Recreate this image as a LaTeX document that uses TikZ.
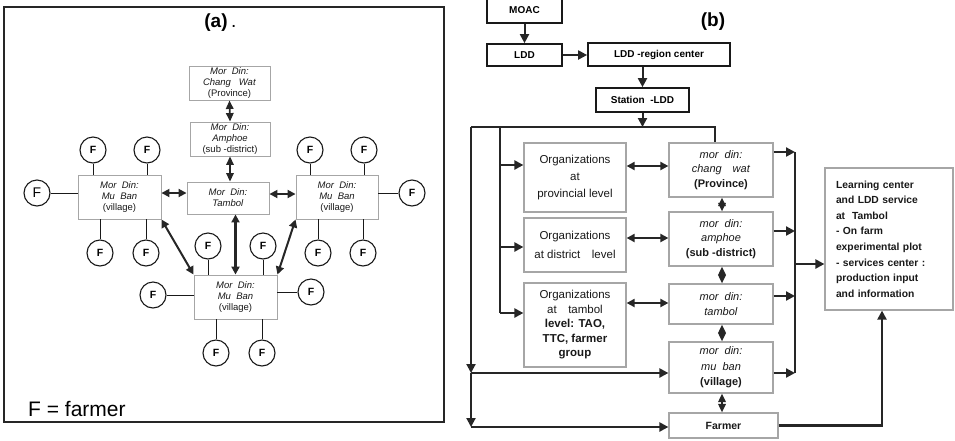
\documentclass[tikz,border=0pt]{standalone}
\usepackage{fontspec}
\setmainfont{Liberation Sans}
\usetikzlibrary{arrows.meta,calc,positioning}
\tikzset{
  frame line/.style={draw=black!85,line width=1.3pt},
  level box/.style={draw=black!35,line width=0.9pt,fill=white,align=center,
    inner sep=0.5pt,text=black!90,font=\fontsize{9.5}{11}\selectfont},
  farmer vertex/.style={circle,draw=black!90,line width=1.1pt,fill=white,
    minimum size=26pt,inner sep=0pt,font=\bfseries\fontsize{10.5}{12}\selectfont},
  farmer edge/.style={line width=0.8pt,black!90},
  twoway edge/.style={{Triangle[length=8pt,width=8pt]}-{Triangle[length=8pt,width=8pt]},
    line width=1.8pt,black!85},
  stack edge/.style={{Triangle[length=8.5pt,width=7.5pt]}-{Triangle[length=8.5pt,width=7.5pt]},
    line width=1.6pt,black!85},
  agency box/.style={draw=black!90,line width=1.7pt,fill=white,inner sep=1pt,
    font=\bfseries\fontsize{10}{12}\selectfont},
  unit box/.style={draw=black!35,line width=1.2pt,fill=white,align=center,
    inner sep=1pt,text=black!90},
  flow edge/.style={-{Triangle[length=9pt,width=9pt]},line width=2.2pt,black!85},
  rail line/.style={line width=1.4pt,black!85}
}
\begin{document}
\begin{tikzpicture}[x=1pt,y=-1pt]
  \useasboundingbox (0,0) rectangle (955,440);
  % panel (a)
  \draw[frame line] (4,7) rectangle (444,422);
  \node[inner sep=0pt,font=\bfseries\fontsize{19}{19}\selectfont] (titlea) at (216,23) {(a)};
  \node[anchor=base west,inner sep=0pt,font=\fontsize{19}{19}\selectfont]
    (titleadot) at ($(titlea.base east)+(3,0)$) {.};
  \node[level box,minimum width=81pt,minimum height=34pt] (cwA) at (229.5,83)
    {\textit{Mor~~Din:}\\\textit{Chang~~~Wat}\\(Province)};
  \node[level box,minimum width=80pt,minimum height=34pt] (amA) at (230,139)
    {\textit{Mor~~Din:}\\\textit{Amphoe}\\(sub -district)};
  \node[level box,minimum width=82pt,minimum height=32pt] (tbA) at (228,198)
    {\textit{Mor~~Din:}\\\textit{Tambol}};
  \node[level box,minimum width=83pt,minimum height=44pt] (mbL) at (119.5,197)
    {\textit{Mor~~Din:}\\\textit{Mu~~Ban}\\(village)};
  \node[level box,minimum width=82pt,minimum height=44pt] (mbR) at (337,197)
    {\textit{Mor~~Din:}\\\textit{Mu~~Ban}\\(village)};
  \node[level box,minimum width=83pt,minimum height=44pt] (mbB) at (235.5,297)
    {\textit{Mor~~Din:}\\\textit{Mu~~Ban}\\(village)};
  \draw[stack edge] (cwA.south) -- (amA.north);
  \draw[stack edge] (amA.south) -- (amA.south |- tbA.north);
  \draw[twoway edge] ([yshift=4pt]mbL.east) -- ([yshift=4pt]mbL.east -| tbA.west);
  \draw[twoway edge] ([yshift=4pt]tbA.east) -- ([yshift=4pt]tbA.east -| mbR.west);
  \draw[twoway edge,line width=2.4pt] (mbB.north |- tbA.south) -- (mbB.north);
  \draw[twoway edge,line width=2pt] (mbL.south east) -- (mbB.north west);
  \draw[twoway edge,line width=2pt] (mbR.south west) -- (mbB.north east);
  % farmers round each village
  \node[farmer vertex] (fl1) at (93,150) {F};
  \node[farmer vertex] (fl2) at (147,150) {F};
  \node[farmer vertex,font=\fontsize{14}{14}\selectfont] (fl3) at (37,193) {F};
  \node[farmer vertex] (fl4) at (100,253) {F};
  \node[farmer vertex] (fl5) at (146,253) {F};
  \node[farmer vertex] (fr1) at (310,150) {F};
  \node[farmer vertex] (fr2) at (364,150) {F};
  \node[farmer vertex] (fr3) at (412,193) {F};
  \node[farmer vertex] (fr4) at (318,253) {F};
  \node[farmer vertex] (fr5) at (363,253) {F};
  \node[farmer vertex] (fb1) at (208,246) {F};
  \node[farmer vertex] (fb2) at (263,246) {F};
  \node[farmer vertex] (fb3) at (153,295) {F};
  \node[farmer vertex] (fb4) at (311,292) {F};
  \node[farmer vertex] (fb5) at (216,353) {F};
  \node[farmer vertex] (fb6) at (262,353) {F};
  \draw[farmer edge] (fl1) -- (fl1 |- mbL.north);
  \draw[farmer edge] (fl2) -- (fl2 |- mbL.north);
  \draw[farmer edge] (fl3) -- (fl3 -| mbL.west);
  \draw[farmer edge] (fl4) -- (fl4 |- mbL.south);
  \draw[farmer edge] (fl5) -- (fl5 |- mbL.south);
  \draw[farmer edge] (fr1) -- (fr1 |- mbR.north);
  \draw[farmer edge] (fr2) -- (fr2 |- mbR.north);
  \draw[farmer edge] (fr3) -- (fr3 -| mbR.east);
  \draw[farmer edge] (fr4) -- (fr4 |- mbR.south);
  \draw[farmer edge] (fr5) -- (fr5 |- mbR.south);
  \draw[farmer edge] (fb1) -- (fb1 |- mbB.north);
  \draw[farmer edge] (fb2) -- (fb2 |- mbB.north);
  \draw[farmer edge] (fb3) -- (fb3 -| mbB.west);
  \draw[farmer edge] (fb4) -- (fb4 -| mbB.east);
  \draw[farmer edge] (fb5) -- (fb5 |- mbB.south);
  \draw[farmer edge] (fb6) -- (fb6 |- mbB.south);
  \node[anchor=west,inner sep=0pt,font=\fontsize{21}{21}\selectfont] (legend) at (28,409) {F = farmer};
  % panel (b)
  \node[inner sep=0pt,font=\bfseries\fontsize{19}{19}\selectfont] (titleb) at (713,22) {(b)};
  \node[agency box,minimum width=75pt,minimum height=26pt] (moac) at (524.5,10) {MOAC};
  \node[agency box,minimum width=75pt,minimum height=22pt] (ldd) at (524.5,55) {LDD};
  \node[agency box,minimum width=142pt,minimum height=23pt] (region) at (659,54.5) {LDD -region center};
  \node[agency box,minimum width=93pt,minimum height=24pt] (station) at (642.5,100) {Station~~-LDD};
  \node[unit box,minimum width=102pt,minimum height=69pt,font=\fontsize{11.5}{17}\selectfont]
    (orgP) at (575,177.5) {Organizations\\at\\provincial level};
  \node[unit box,minimum width=102pt,minimum height=54pt,font=\fontsize{11.5}{18.5}\selectfont]
    (orgD) at (575,245) {Organizations\\at district\quad level};
  \node[unit box,minimum width=102pt,minimum height=84pt,font=\fontsize{11.5}{14.5}\selectfont]
    (orgT) at (575,325) {Organizations\\at\quad tambol\\\textbf{level: TAO,}\\\textbf{TTC, farmer}\\\textbf{group}};
  \node[unit box,minimum width=104pt,minimum height=54pt,font=\fontsize{11}{14.5}\selectfont]
    (mdcw) at (721,170) {\textit{mor~~din:}\\\textit{chang\quad wat}\\\textbf{(Province)}};
  \node[unit box,minimum width=104pt,minimum height=54pt,font=\fontsize{11}{14.5}\selectfont]
    (mdam) at (721,239) {\textit{mor~~din:}\\\textit{amphoe}\\\textbf{(sub -district)}};
  \node[unit box,minimum width=104pt,minimum height=40pt,font=\fontsize{11}{14.5}\selectfont]
    (mdtb) at (721,304) {\textit{mor~~din:}\\\textit{tambol}};
  \node[unit box,minimum width=104pt,minimum height=51pt,font=\fontsize{11}{15.5}\selectfont]
    (mdmb) at (721,367.5) {\textit{mor~~din:}\\\textit{mu~~ban}\\\textbf{(village)}};
  \node[unit box,minimum width=109pt,minimum height=25pt,font=\bfseries\fontsize{10.5}{12}\selectfont]
    (farmerb) at (723.5,425.5) {Farmer};
  \node[unit box,minimum width=128pt,minimum height=142pt,text width=106pt,align=left,
    inner xsep=11pt,font=\bfseries\fontsize{10.3}{15.6}\selectfont] (learn) at (889,239)
    {Learning center\\and LDD service\\at~ Tambol\\- On farm\\experimental plot\\- services center :\\production input\\and information};
  \coordinate (ltop) at (471,127);
  \coordinate (rtop) at (715,127);
  \coordinate (otop) at (500,127);
  \coordinate (ob1) at (500,165);
  \coordinate (ob2) at (500,247);
  \coordinate (ob3) at (500,313);
  \coordinate (jv1) at (471,373);
  \coordinate (jv2) at (471,427);
  \coordinate (da1) at (627,166);
  \coordinate (da2) at (627,238);
  \coordinate (da3) at (627,303);
  \coordinate (rc1) at (795,152);
  \coordinate (rc2) at (795,231);
  \coordinate (rc3) at (795,296);
  \coordinate (rc4) at (795,373);
  \coordinate (rcm) at (795,264);
  \draw[flow edge,line width=2pt] (moac.south) -- (moac.south |- ldd.north);
  \draw[flow edge,line width=2pt] (ldd.east) -- (ldd.east -| region.west);
  \draw[flow edge,line width=2pt] (station.north |- region.south) -- (station.north);
  \draw[flow edge,line width=2pt] (station.south) -- (station.south |- ltop);
  \draw[rail line] (ltop) -- (rtop) -- (rtop |- mdcw.north);
  \draw[rail line] (otop) -- (ob3);
  \draw[flow edge] (ob1) -- (ob1 -| orgP.west);
  \draw[flow edge] (ob2) -- (ob2 -| orgD.west);
  \draw[flow edge] (ob3) -- (ob3 -| orgT.west);
  \draw[flow edge,line width=2pt] (ltop) -- (jv1);
  \draw[flow edge] (jv1) -- (jv1 -| mdmb.west);
  \draw[flow edge,line width=2pt] (jv1) -- (jv2);
  \draw[flow edge] (jv2) -- (jv2 -| farmerb.west);
  \draw[twoway edge,line width=2pt] (da1 -| orgP.east) -- (da1 -| mdcw.west);
  \draw[twoway edge,line width=2pt] (da2 -| orgD.east) -- (da2 -| mdam.west);
  \draw[twoway edge,line width=2pt] (da3 -| orgT.east) -- (da3 -| mdtb.west);
  \draw[stack edge,line width=1.8pt] ([xshift=1pt]mdcw.south) -- ([xshift=1pt]mdam.north);
  \draw[stack edge,line width=1.8pt] ([xshift=1pt]mdam.south) -- ([xshift=1pt]mdtb.north);
  \draw[stack edge,line width=1.8pt] ([xshift=1pt]mdtb.south) -- ([xshift=1pt]mdmb.north);
  \draw[stack edge,line width=1.8pt] ([xshift=1pt]mdmb.south) -- ([xshift=1pt]mdmb.south |- farmerb.north);
  \draw[flow edge] (rc1 -| mdcw.east) -- (rc1);
  \draw[flow edge] (rc2 -| mdam.east) -- (rc2);
  \draw[flow edge] (rc3 -| mdtb.east) -- (rc3);
  \draw[flow edge] (rc4 -| mdmb.east) -- (rc4);
  \draw[rail line] (rc1) -- (rc4);
  \draw[flow edge] (rcm) -- (rcm -| learn.west);
  \draw[flow edge] (farmerb.east) -| ([xshift=-7pt]learn.south);
\end{tikzpicture}
\end{document}
